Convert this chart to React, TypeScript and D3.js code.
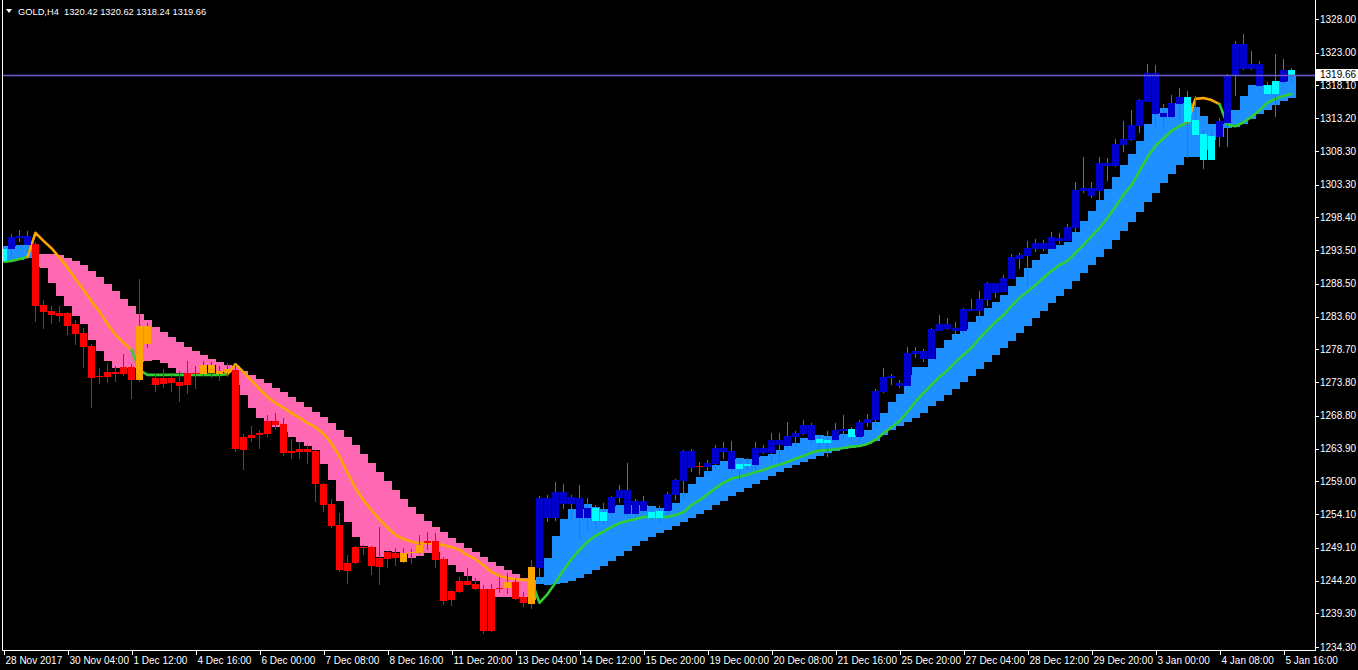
import React, { useEffect } from "react";
import * as d3 from "d3";

// GOLD,H4 — MT4-style candles with a trailing trend band and a two-colour MA.

const W = 1358;
const H = 670;
const PLOT = { left: 2, right: 1315, top: 0, bottom: 650 };
const BAR_STEP = 8;

const TITLE = "GOLD,H4  1320.42 1320.62 1318.24 1319.66";
const LAST_PRICE = 1319.66;

// prettier-ignore
const OPEN = [
  1293.7, 1293.7, 1295.3, 1294.3, 1294.4, 1285.3, 1284.4, 1284.1, 1284.1, 1282.5,
  1281.2, 1279.2, 1274.7, 1275.3, 1275.3, 1276.1, 1276.1, 1274.1, 1282.2, 1274.4,
  1274.4, 1274.4, 1273.8, 1275.2, 1275.2, 1275.0, 1276.4, 1275.0, 1275.2, 1275.6,
  1265.6, 1265.9, 1266.2, 1268.0, 1268.0, 1267.6, 1263.6, 1263.8, 1263.8, 1263.6,
  1258.6, 1255.6, 1252.5, 1246.8, 1249.2, 1249.2, 1249.2, 1247.6, 1248.5, 1248.3,
  1247.0, 1248.3, 1248.3, 1250.1, 1250.1, 1247.4, 1242.7, 1244.2, 1244.2, 1243.7,
  1243.0, 1243.0, 1243.1, 1243.1, 1244.0, 1241.8, 1240.7, 1246.1, 1253.6, 1253.6,
  1255.6, 1255.6, 1253.6, 1253.6, 1255.0, 1254.4, 1254.3, 1256.5, 1254.2, 1254.2,
  1254.6, 1254.4, 1254.6, 1254.6, 1257.0, 1259.1, 1261.0, 1261.3, 1261.2, 1261.6,
  1263.4, 1260.9, 1261.6, 1261.6, 1261.5, 1263.3, 1263.3, 1264.4, 1264.3, 1265.6,
  1266.1, 1265.2, 1265.3, 1265.2, 1265.2, 1266.5, 1266.8, 1265.6, 1267.7, 1268.2,
  1272.4, 1274.4, 1273.2, 1273.2, 1278.0, 1277.3, 1277.3, 1281.5, 1281.8, 1281.5,
  1281.5, 1284.4, 1284.4, 1286.1, 1287.1, 1287.3, 1289.2, 1292.2, 1292.6, 1293.7,
  1293.7, 1293.7, 1294.9, 1294.9, 1296.8, 1302.4, 1301.6, 1302.4, 1306.1, 1306.1,
  1309.2, 1310.0, 1312.0, 1315.6, 1319.9, 1313.4, 1313.4, 1315.3, 1316.4, 1312.9,
  1310.9, 1307.0, 1310.4, 1312.5, 1319.5, 1324.3, 1320.5, 1321.3, 1318.2, 1316.8,
  1318.6, 1320.42,
];
// prettier-ignore
const HIGH = [
  1294.0, 1295.9, 1296.5, 1296.4, 1294.7, 1286.1, 1285.2, 1285.2, 1284.3, 1283.1,
  1281.9, 1279.5, 1275.9, 1276.7, 1276.2, 1278.0, 1276.5, 1289.2, 1282.7, 1275.2,
  1275.8, 1274.9, 1275.5, 1277.0, 1276.2, 1277.0, 1276.8, 1276.2, 1276.7, 1276.4,
  1266.1, 1267.3, 1266.7, 1268.9, 1269.2, 1268.5, 1265.3, 1264.9, 1264.4, 1263.7,
  1258.8, 1256.4, 1254.3, 1248.0, 1249.4, 1249.5, 1249.4, 1252.2, 1248.6, 1249.1,
  1249.1, 1248.9, 1251.0, 1251.5, 1251.3, 1247.7, 1242.8, 1244.7, 1246.1, 1244.6,
  1243.6, 1243.7, 1244.7, 1245.3, 1244.4, 1242.5, 1247.3, 1256.8, 1257.0, 1258.9,
  1258.6, 1257.0, 1258.5, 1256.5, 1255.5, 1255.8, 1256.8, 1258.5, 1261.8, 1256.4,
  1256.8, 1255.0, 1255.3, 1257.4, 1259.4, 1263.7, 1263.8, 1261.9, 1262.2, 1264.4,
  1264.9, 1265.0, 1262.2, 1262.5, 1264.9, 1264.4, 1266.2, 1266.2, 1267.9, 1266.5,
  1268.2, 1267.7, 1265.9, 1266.5, 1267.7, 1268.9, 1267.1, 1268.2, 1269.1, 1272.8,
  1275.9, 1275.0, 1274.1, 1279.1, 1279.1, 1278.8, 1281.9, 1283.8, 1283.4, 1282.8,
  1284.9, 1286.2, 1287.4, 1288.8, 1288.6, 1289.8, 1292.9, 1293.1, 1294.9, 1295.2,
  1295.0, 1296.2, 1296.1, 1297.4, 1303.7, 1307.4, 1303.7, 1307.4, 1307.3, 1310.1,
  1312.8, 1314.4, 1316.1, 1321.3, 1321.1, 1315.3, 1316.7, 1317.7, 1317.3, 1316.5,
  1311.5, 1311.4, 1313.2, 1319.8, 1324.7, 1325.8, 1323.2, 1321.7, 1318.6, 1322.8,
  1322.0, 1320.62,
];
// prettier-ignore
const LOW = [
  1291.6, 1292.6, 1294.7, 1293.1, 1282.8, 1281.8, 1282.5, 1282.8, 1280.9, 1279.4,
  1275.9, 1270.0, 1273.6, 1273.7, 1273.8, 1274.7, 1271.3, 1273.8, 1278.9, 1272.4,
  1272.9, 1272.4, 1270.9, 1272.0, 1272.8, 1274.7, 1274.4, 1274.0, 1274.6, 1263.4,
  1260.7, 1264.9, 1263.8, 1265.6, 1266.7, 1262.8, 1262.4, 1262.4, 1261.6, 1255.9,
  1254.4, 1252.1, 1245.5, 1243.7, 1246.7, 1248.0, 1245.1, 1243.6, 1246.1, 1246.4,
  1246.8, 1246.7, 1248.2, 1248.8, 1246.1, 1240.6, 1240.4, 1242.4, 1243.4, 1242.8,
  1236.2, 1236.5, 1242.4, 1242.2, 1241.3, 1240.3, 1240.0, 1244.2, 1253.0, 1253.1,
  1254.9, 1253.4, 1250.3, 1251.5, 1252.1, 1252.5, 1253.9, 1255.8, 1253.7, 1253.6,
  1254.3, 1253.3, 1252.7, 1254.0, 1256.2, 1256.4, 1260.4, 1260.0, 1260.0, 1260.9,
  1262.4, 1260.0, 1259.2, 1260.7, 1260.7, 1263.1, 1261.9, 1261.9, 1263.7, 1264.2,
  1265.9, 1264.4, 1263.7, 1262.7, 1265.0, 1265.3, 1264.9, 1264.9, 1267.1, 1267.1,
  1272.2, 1273.4, 1272.9, 1273.2, 1277.4, 1276.8, 1277.3, 1281.5, 1281.6, 1281.0,
  1281.0, 1284.4, 1282.8, 1285.2, 1286.4, 1287.3, 1289.2, 1290.7, 1288.0, 1293.2,
  1293.4, 1293.7, 1294.4, 1294.9, 1296.2, 1302.1, 1301.3, 1301.0, 1303.8, 1305.9,
  1308.2, 1309.8, 1311.0, 1315.6, 1311.6, 1311.6, 1313.2, 1313.1, 1307.3, 1310.4,
  1305.6, 1307.0, 1308.9, 1308.9, 1316.5, 1320.4, 1320.4, 1317.4, 1316.5, 1313.4,
  1318.2, 1318.24,
];
// prettier-ignore
const CLOSE = [
  1291.9, 1295.5, 1295.6, 1295.6, 1285.2, 1284.3, 1283.8, 1283.7, 1282.2, 1281.0,
  1279.1, 1274.4, 1274.6, 1274.6, 1275.0, 1275.0, 1274.1, 1282.2, 1279.5, 1273.4,
  1273.6, 1273.7, 1273.3, 1273.4, 1275.0, 1276.4, 1275.2, 1275.5, 1275.8, 1263.8,
  1263.7, 1265.5, 1265.9, 1266.1, 1267.4, 1263.3, 1263.3, 1263.4, 1263.4, 1258.6,
  1255.5, 1252.4, 1245.8, 1245.6, 1246.8, 1249.1, 1246.4, 1246.2, 1247.4, 1247.6,
  1248.3, 1248.5, 1249.5, 1249.8, 1247.3, 1241.2, 1241.3, 1242.5, 1243.6, 1243.0,
  1236.7, 1236.7, 1243.0, 1244.0, 1241.5, 1240.9, 1246.2, 1256.5, 1256.5, 1257.4,
  1257.4, 1256.7, 1256.5, 1255.0, 1253.1, 1253.1, 1256.7, 1257.7, 1257.7, 1256.1,
  1256.1, 1253.6, 1253.6, 1257.1, 1259.2, 1263.6, 1263.6, 1261.2, 1261.8, 1264.0,
  1264.0, 1263.6, 1260.9, 1261.3, 1264.0, 1264.0, 1265.2, 1265.2, 1265.8, 1266.2,
  1267.4, 1267.4, 1264.7, 1264.7, 1266.7, 1266.8, 1265.6, 1267.9, 1268.3, 1272.5,
  1274.6, 1274.7, 1273.7, 1278.2, 1278.5, 1278.5, 1281.8, 1282.5, 1282.5, 1281.9,
  1284.7, 1284.7, 1286.2, 1288.6, 1288.6, 1289.4, 1292.5, 1292.8, 1293.8, 1294.6,
  1294.6, 1295.5, 1295.3, 1297.0, 1302.5, 1302.8, 1302.8, 1306.5, 1306.5, 1309.4,
  1310.1, 1312.2, 1315.9, 1319.9, 1313.8, 1314.0, 1315.5, 1316.4, 1312.6, 1310.7,
  1307.0, 1310.5, 1312.8, 1319.6, 1324.3, 1320.5, 1321.3, 1318.0, 1316.8, 1318.8,
  1320.4, 1319.66,
];

// trailing band: upper and lower edge of the block drawn for each bar
// prettier-ignore
const BAND_HI = [
  1294.1, 1294.1, 1294.3, 1294.3, 1293.0, 1292.9, 1292.9, 1292.8, 1292.4, 1291.9,
  1291.3, 1290.4, 1289.5, 1288.5, 1287.4, 1286.2, 1285.2, 1284.0, 1283.1, 1282.0,
  1281.3, 1280.6, 1279.8, 1279.1, 1278.5, 1277.9, 1277.3, 1276.8, 1276.4, 1276.2,
  1275.5, 1274.9, 1274.3, 1273.7, 1273.0, 1272.4, 1271.6, 1270.9, 1270.1, 1269.4,
  1268.6, 1267.7, 1266.7, 1265.6, 1264.4, 1263.1, 1261.8, 1260.4, 1259.1, 1257.7,
  1256.4, 1255.2, 1254.2, 1253.1, 1252.2, 1251.5, 1250.6, 1249.8, 1249.1, 1248.5,
  1247.7, 1247.0, 1246.4, 1245.8, 1245.2, 1244.6, 1244.3, 1244.7, 1247.6, 1250.9,
  1253.4, 1254.9, 1254.9, 1255.6, 1255.2, 1254.9, 1255.3, 1255.5, 1255.5, 1255.5,
  1255.5, 1255.3, 1255.0, 1254.7, 1255.8, 1257.3, 1258.6, 1259.7, 1260.6, 1261.5,
  1262.1, 1262.4, 1262.5, 1262.4, 1262.7, 1262.8, 1263.1, 1263.7, 1264.3, 1264.7,
  1265.5, 1265.9, 1265.9, 1265.8, 1265.9, 1266.1, 1265.9, 1265.8, 1266.7, 1267.9,
  1269.2, 1270.9, 1272.0, 1274.9, 1276.1, 1276.1, 1277.3, 1278.9, 1280.1, 1281.0,
  1281.8, 1282.8, 1283.7, 1284.9, 1285.8, 1286.8, 1288.2, 1289.5, 1290.9, 1292.1,
  1292.9, 1293.7, 1294.3, 1294.7, 1296.2, 1297.9, 1299.4, 1301.0, 1302.6, 1304.4,
  1306.2, 1307.9, 1309.8, 1312.3, 1314.0, 1314.7, 1315.5, 1315.5, 1315.5, 1314.9,
  1313.5, 1312.3, 1312.3, 1314.4, 1314.4, 1316.5, 1318.2, 1318.2, 1318.2, 1318.8,
  1318.8, 1319.5,
];
// prettier-ignore
const BAND_LO = [
  1291.9, 1291.9, 1292.1, 1292.4, 1291.0, 1290.9, 1288.6, 1286.7, 1285.2, 1283.7,
  1282.5, 1280.1, 1278.5, 1277.0, 1275.9, 1275.9, 1275.9, 1276.8, 1277.0, 1277.1,
  1276.7, 1275.9, 1275.2, 1275.2, 1275.2, 1276.4, 1276.4, 1275.3, 1275.3, 1273.4,
  1271.9, 1270.0, 1268.5, 1268.0, 1267.1, 1266.4, 1265.6, 1264.9, 1264.3, 1263.7,
  1261.6, 1259.2, 1256.1, 1253.0, 1250.7, 1249.4, 1249.2, 1247.7, 1248.6, 1248.5,
  1248.2, 1247.6, 1247.9, 1248.3, 1248.5, 1247.4, 1246.5, 1245.5, 1244.9, 1244.2,
  1243.0, 1241.8, 1241.8, 1241.8, 1241.8, 1241.8, 1241.3, 1243.7, 1243.6, 1243.7,
  1243.9, 1244.2, 1244.6, 1245.2, 1245.8, 1246.4, 1247.1, 1247.9, 1248.6, 1249.4,
  1250.1, 1250.7, 1251.3, 1251.8, 1252.4, 1253.0, 1253.6, 1254.2, 1254.7, 1255.5,
  1256.1, 1256.8, 1257.4, 1258.0, 1258.6, 1259.2, 1259.8, 1260.4, 1261.0, 1261.5,
  1261.9, 1262.4, 1262.8, 1263.3, 1263.6, 1263.8, 1264.0, 1264.4, 1264.6, 1265.0,
  1265.9, 1266.7, 1267.3, 1267.9, 1268.5, 1269.2, 1270.3, 1271.0, 1271.9, 1272.8,
  1273.8, 1274.7, 1275.8, 1276.8, 1277.9, 1278.9, 1280.0, 1281.2, 1282.2, 1283.4,
  1284.4, 1285.6, 1286.7, 1287.7, 1288.9, 1290.1, 1291.3, 1292.5, 1293.7, 1295.0,
  1296.4, 1297.7, 1299.2, 1300.7, 1302.0, 1303.5, 1304.9, 1306.2, 1307.4, 1307.4,
  1308.5, 1310.0, 1310.4, 1311.7, 1311.9, 1312.3, 1313.1, 1313.8, 1314.4, 1315.2,
  1315.8, 1316.2,
];
// prettier-ignore
const MA = [
  1291.8, 1291.9, 1292.2, 1292.5, 1296.1, 1294.9, 1293.8, 1292.4, 1290.9, 1289.2,
  1287.6, 1285.9, 1284.3, 1282.5, 1280.9, 1279.7, 1278.6, 1275.6, 1274.9, 1274.9,
  1274.9, 1274.9, 1274.9, 1274.9, 1274.9, 1274.9, 1274.9, 1274.9, 1275.0, 1276.5,
  1275.3, 1274.1, 1272.8, 1271.6, 1270.7, 1270.0, 1269.2, 1268.5, 1267.7, 1267.1,
  1266.1, 1264.7, 1262.7, 1260.3, 1258.0, 1256.2, 1254.7, 1253.3, 1252.1, 1251.0,
  1250.4, 1250.0, 1249.8, 1249.8, 1249.8, 1249.5, 1249.2, 1248.8, 1248.0, 1247.4,
  1246.5, 1245.5, 1244.9, 1244.6, 1244.4, 1244.3, 1244.2, 1240.9, 1242.2, 1243.9,
  1245.8, 1247.4, 1248.8, 1250.0, 1250.9, 1251.5, 1252.2, 1252.8, 1253.1, 1253.4,
  1253.7, 1253.7, 1253.7, 1253.7, 1254.0, 1254.4, 1255.5, 1256.2, 1257.1, 1258.0,
  1258.8, 1259.4, 1259.7, 1260.0, 1260.4, 1260.7, 1261.2, 1261.5, 1261.9, 1262.4,
  1262.8, 1263.3, 1263.6, 1263.7, 1263.8, 1264.0, 1264.2, 1264.3, 1264.6, 1265.2,
  1266.2, 1267.1, 1268.0, 1269.4, 1270.9, 1272.2, 1273.4, 1274.6, 1275.6, 1276.8,
  1277.9, 1278.9, 1280.4, 1281.6, 1282.8, 1283.8, 1285.2, 1286.4, 1287.3, 1288.3,
  1289.4, 1290.4, 1291.3, 1291.9, 1293.1, 1294.3, 1295.6, 1296.8, 1298.3, 1300.0,
  1301.8, 1303.2, 1305.3, 1307.4, 1309.1, 1310.2, 1311.3, 1312.0, 1312.6, 1316.1,
  1316.2, 1315.9, 1315.3, 1312.2, 1312.0, 1312.6, 1313.4, 1314.4, 1315.5, 1316.1,
  1316.5, 1316.8,
];

// body colour per bar: c = aqua, b = blue, r = red, o = orange
const CANDLE_COLOR = (
  "cbbbrrrrrr" + "rrrrrrroor" + "rrrrroooor" + "rrrrrrrrrr" + "rrrrrrrrrr" +
  "ooorrrrrrr" + "rrrorrobbb" + "bbbbccbbbb" + "bccbbbbrbb" + "bbccbbbbbb" +
  "bbccbbcbbb" + "bbbbbbbbbb" + "bbbbbbbbbb" + "bbbbbbbbbb" + "bbbbbbbbcc" +
  "ccbbbbbbcc" + "bc"
).split("");

const TREND = [
  { from: 0, to: 3, dir: "up" },
  { from: 4, to: 66, dir: "down" },
  { from: 67, to: 161, dir: "up" },
];

const MA_SEGMENTS = [
  { from: 0, to: 3, dir: "up" },
  { from: 4, to: 16, dir: "down" },
  { from: 17, to: 28, dir: "up" },
  { from: 29, to: 66, dir: "down" },
  { from: 67, to: 148, dir: "up" },
  { from: 149, to: 152, dir: "down" },
  { from: 153, to: 161, dir: "up" },
];

// prettier-ignore
const Y_TICKS = [
  1328.0, 1323.0, 1318.1, 1313.2, 1308.3, 1303.3, 1298.4, 1293.5, 1288.5, 1283.6,
  1278.7, 1273.8, 1268.8, 1263.9, 1259.0, 1254.1, 1249.1, 1244.2, 1239.3, 1234.3,
];

// one label every 8 bars
const TIME_LABEL_STEP = 8;
// prettier-ignore
const TIME_LABELS = [
  "28 Nov 2017", "30 Nov 04:00", "1 Dec 12:00", "4 Dec 16:00", "6 Dec 00:00",
  "7 Dec 08:00", "8 Dec 16:00", "11 Dec 20:00", "13 Dec 04:00", "14 Dec 12:00",
  "15 Dec 20:00", "19 Dec 00:00", "20 Dec 08:00", "21 Dec 16:00", "25 Dec 20:00",
  "27 Dec 04:00", "28 Dec 12:00", "29 Dec 20:00", "3 Jan 00:00", "4 Jan 08:00",
  "5 Jan 16:00",
];

const COLORS: Record<string, string> = {
  c: "#00FFFF",
  b: "#0000CD",
  r: "#FF0000",
  o: "#FFA500",
};
const BAND_UP = "#1E90FF";
const BAND_DOWN = "#FF69B4";
const MA_UP = "#32CD32";
const MA_DOWN = "#FFA500";
const WICK_UP = "#4169E1";
const WICK_DOWN = "#FF0000";
const PRICE_LINE = "#6A5ACD";
const FONT = "'Liberation Sans', Arial, sans-serif";

const N = OPEN.length;

const trendAt = (i: number) => TREND.find((t) => i >= t.from && i <= t.to)?.dir ?? "up";

const App: React.FC = () => {
  useEffect(() => {
    document.body.style.margin = "0";
    document.body.style.background = "#000";
  }, []);

  const idx = d3.range(N);
  const x = d3.scaleBand<number>().domain(idx).range([0, N * BAR_STEP]).padding(0);
  const y = d3.scaleLinear().domain([1234.3, 1328.0]).range([647, 19]);
  const cx = (i: number) => (x(i) ?? 0) + BAR_STEP / 2 - 0.5;

  const maLine = d3
    .line<number>()
    .x((i) => cx(i))
    .y((i) => y(MA[i]));

  return (
    <svg
      width={W}
      height={H}
      style={{ position: "fixed", left: 0, top: 0, display: "block", background: "#000" }}
      fontFamily={FONT}
    >
      <defs>
        <clipPath id="plot">
          <rect x={PLOT.left} y={PLOT.top} width={PLOT.right - PLOT.left} height={PLOT.bottom - PLOT.top} />
        </clipPath>
      </defs>
      <rect width={W} height={H} fill="#000" />

      <g clipPath="url(#plot)">
        {/* trend band blocks */}
        <g shapeRendering="crispEdges">
          {idx.map((i) => {
            const y0 = y(BAND_HI[i]);
            const y1 = y(BAND_LO[i]);
            return (
              <rect
                key={i}
                x={x(i)}
                y={Math.round(y0)}
                width={BAR_STEP}
                height={Math.max(1, Math.round(y1) - Math.round(y0))}
                fill={trendAt(i) === "up" ? BAND_UP : BAND_DOWN}
              />
            );
          })}
        </g>

        {/* moving average, coloured by regime */}
        {MA_SEGMENTS.map((s, k) => {
          const pts = d3.range(Math.max(0, s.from - 1), s.to + 1);
          return (
            <path
              key={k}
              d={maLine(pts) ?? ""}
              fill="none"
              stroke={s.dir === "up" ? MA_UP : MA_DOWN}
              strokeWidth={2.6}
              strokeLinejoin="round"
              strokeLinecap="round"
            />
          );
        })}

        {/* candles */}
        <g shapeRendering="crispEdges">
          {idx.map((i) => {
            const top = Math.round(y(Math.max(OPEN[i], CLOSE[i])));
            const bot = Math.round(y(Math.min(OPEN[i], CLOSE[i])));
            const xl = x(i) ?? 0;
            return (
              <g key={i}>
                <line
                  x1={xl + 3.5}
                  x2={xl + 3.5}
                  y1={Math.round(y(HIGH[i]))}
                  y2={Math.round(y(LOW[i]))}
                  stroke={trendAt(i) === "up" ? WICK_UP : WICK_DOWN}
                  strokeWidth={1}
                />
                <rect x={xl} y={top} width={BAR_STEP - 1} height={Math.max(1, bot - top)} fill={COLORS[CANDLE_COLOR[i]]} />
              </g>
            );
          })}
        </g>

        {/* last price line */}
        <line
          x1={PLOT.left}
          x2={PLOT.right}
          y1={Math.round(y(LAST_PRICE)) + 0.5}
          y2={Math.round(y(LAST_PRICE)) + 0.5}
          stroke={PRICE_LINE}
          strokeWidth={1.5}
        />
      </g>

      {/* frame */}
      <g stroke="#fff" strokeWidth={1} shapeRendering="crispEdges">
        <line x1={PLOT.left + 0.5} x2={PLOT.left + 0.5} y1={0} y2={PLOT.bottom} />
        <line x1={PLOT.right + 0.5} x2={PLOT.right + 0.5} y1={0} y2={PLOT.bottom} />
        <line x1={PLOT.left} x2={PLOT.right + 1} y1={PLOT.bottom + 0.5} y2={PLOT.bottom + 0.5} />
      </g>

      {/* price axis */}
      <g fontSize={10} fill="#fff">
        {Y_TICKS.map((t) => (
          <g key={t}>
            <line
              x1={PLOT.right}
              x2={PLOT.right + 4}
              y1={Math.round(y(t)) + 0.5}
              y2={Math.round(y(t)) + 0.5}
              stroke="#fff"
              shapeRendering="crispEdges"
            />
            <text x={PLOT.right + 5} y={y(t)} dy="0.35em">
              {t.toFixed(2)}
            </text>
          </g>
        ))}
      </g>

      {/* last price tag */}
      <g>
        <rect x={PLOT.right + 1} y={Math.round(y(LAST_PRICE)) - 6} width={W - PLOT.right - 1} height={12} fill="#fff" />
        <text x={PLOT.right + 5} y={y(LAST_PRICE)} dy="0.35em" fontSize={10} fill="#000">
          {LAST_PRICE.toFixed(2)}
        </text>
      </g>

      {/* time axis */}
      <g fontSize={10} fill="#fff">
        {TIME_LABELS.map((lab, k) => {
          const bx = Math.round(cx(k * TIME_LABEL_STEP)) + 0.5;
          return (
            <g key={lab}>
              <line x1={bx} x2={bx} y1={PLOT.bottom} y2={PLOT.bottom + 5} stroke="#fff" shapeRendering="crispEdges" />
              <text x={bx + 1} y={PLOT.bottom + 14}>
                {lab}
              </text>
            </g>
          );
        })}
      </g>

      {/* title */}
      <polygon points="6,9 12,9 9,13" fill="#fff" />
      <text x={18} y={15} fontSize={9.3} fill="#fff" style={{ whiteSpace: "pre" }}>
        {TITLE}
      </text>
    </svg>
  );
};

export default App;
